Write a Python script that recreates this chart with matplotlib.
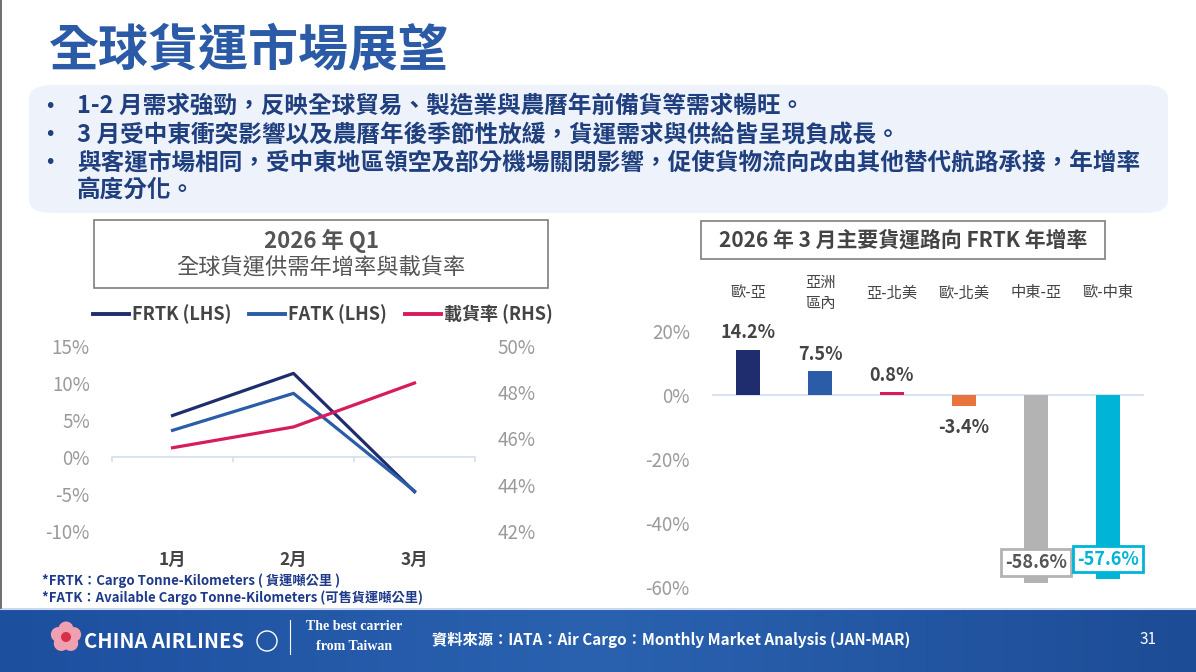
import matplotlib
matplotlib.use("Agg")
import matplotlib.pyplot as plt
import numpy as np
from matplotlib.patches import FancyBboxPatch, Rectangle, Circle
from matplotlib.lines import Line2D
from matplotlib.colors import LinearSegmentedColormap

plt.rcParams['font.family'] = ['Noto Sans CJK TC', 'DejaVu Sans']

# ---- data ----
months = ['1月', '2月', '3月']
frtk = [5.6, 11.3, -4.7]        # % yoy (LHS)
fatk = [3.6, 8.6, -4.6]         # % yoy (LHS)
load_factor = [45.6, 46.5, 48.4]  # % (RHS)

routes = ['歐-亞', '亞洲\n區內', '亞-北美', '歐-北美', '中東-亞', '歐-中東']
route_growth = [14.2, 7.5, 0.8, -3.4, -58.6, -57.6]

title = '全球貨運市場展望'
bullets = [
    '1-2 月需求強勁，反映全球貿易、製造業與農曆年前備貨等需求暢旺。',
    '3 月受中東衝突影響以及農曆年後季節性放緩，貨運需求與供給皆呈現負成長。',
    '與客運市場相同，受中東地區領空及部分機場關閉影響，促使貨物流向改由其他替代航路承接，年增率',
    '高度分化。',
]

W, H = 1196, 672
fig = plt.figure(figsize=(W / 100, H / 100), dpi=100)
fig.patch.set_facecolor('white')


def fx(x):
    return x / W


def fy(y):
    return 1 - y / H


def px_axes(l, t, r, b):
    return [fx(l), fy(b), (r - l) / W, (b - t) / H]


# ---- header ----
fig.text(fx(49), fy(52), title, fontsize=36, fontweight='bold', color='#2b5ba6', va='center')

box = FancyBboxPatch((fx(29), fy(213)), fx(1139), (213 - 85) / H,
                     boxstyle='round,pad=0,rounding_size=0.02', transform=fig.transFigure,
                     fc='#eef3fb', ec='none', zorder=0)
fig.patches.append(box)
txt_col = '#203f7e'
for y in [107, 135, 163]:
    fig.text(fx(44), fy(y), '•', fontsize=14, color=txt_col, va='center', family='DejaVu Sans')
for y, b in zip([107, 135, 163, 190], bullets):
    fig.text(fx(77), fy(y), b, fontsize=17, color=txt_col, va='center', fontweight='bold')

# ---- left chart title box ----
fig.patches.append(Rectangle((fx(94), fy(288)), (548 - 94) / W, (288 - 220) / H,
                             transform=fig.transFigure, fc='white', ec='#7f7f7f', lw=1.2))
fig.text(fx(321), fy(241), '2026 年 Q1', fontsize=16, fontweight='bold', color='#555555',
         ha='center', va='center')
fig.text(fx(321), fy(268), '全球貨運供需年增率與載貨率', fontsize=16, color='#555555',
         ha='center', va='center')

# ---- right chart title box ----
fig.patches.append(Rectangle((fx(701), fy(259)), (1105 - 701) / W, (259 - 221) / H,
                             transform=fig.transFigure, fc='white', ec='#7f7f7f', lw=1.2))
fig.text(fx(903), fy(240), '2026 年 3 月主要貨運路向 FRTK 年增率', fontsize=15, fontweight='bold',
         color='#444444', ha='center', va='center')

# ---- left line chart ----
ax = fig.add_axes(px_axes(112, 346, 475, 531))
ax2 = ax.twinx()
x = np.arange(len(months))
c_frtk, c_fatk, c_lf = '#1f2d6e', '#2a5ca8', '#d81b5a'
ax.plot(x, frtk, color=c_frtk, lw=2.3, zorder=3)
ax.plot(x, fatk, color=c_fatk, lw=2.3, zorder=3)
ax2.plot(x, load_factor, color=c_lf, lw=2.3, zorder=3)
ax.set_xlim(-0.5, 2.5)
ax.set_ylim(-10, 15)
ax.set_yticks([-10, -5, 0, 5, 10, 15])
ax.set_yticklabels(['-10%', '-5%', '0%', '5%', '10%', '15%'])
ax2.set_ylim(42, 50)
ax2.set_yticks([42, 44, 46, 48, 50])
ax2.set_yticklabels(['42%', '44%', '46%', '48%', '50%'])
for a in (ax, ax2):
    for s in a.spines.values():
        s.set_visible(False)
    a.tick_params(axis='y', length=0, labelsize=13.5, colors='#9a9a9a', pad=16)
ax.axhline(0, color='#d5e0f0', lw=1.3, zorder=1)
for xb in [-0.5, 0.5, 1.5, 2.5]:
    ax.plot([xb, xb], [0, -0.6], color='#d5e0f0', lw=1.3, clip_on=False)
ax.set_xticks(x)
ax.set_xticklabels(months, fontsize=12.5, fontweight='bold', color='#444444')
ax.tick_params(axis='x', length=0, pad=14)
handles = [Line2D([], [], color=c_frtk, lw=2.8), Line2D([], [], color=c_fatk, lw=2.8),
           Line2D([], [], color=c_lf, lw=2.8)]
leg = ax.legend(handles, ['FRTK (LHS)', 'FATK (LHS)', '載貨率 (RHS)'], ncol=3, frameon=False,
                loc='center', bbox_to_anchor=(0.58, 1.17), handlelength=2.0, handletextpad=0.15,
                columnspacing=1.0, prop={'size': 13, 'weight': 'bold'})
for t in leg.get_texts():
    t.set_color('#444444')

fig.text(fx(42), fy(581), '*FRTK：Cargo Tonne-Kilometers ( 貨運噸公里 )', fontsize=9.5,
         fontweight='bold', color='#1f3a8a', va='center')
fig.text(fx(42), fy(598), '*FATK：Available Cargo Tonne-Kilometers (可售貨運噸公里)', fontsize=9.5,
         fontweight='bold', color='#1f3a8a', va='center')

# ---- right bar chart ----
bx = fig.add_axes(px_axes(712, 331, 1144, 587))
bar_colors = ['#1f2d6e', '#2a5ca8', '#d81b5a', '#e8743b', '#b3b3b3', '#00b4d8']
xb = np.arange(len(routes))
bx.bar(xb, route_growth, width=0.33, color=bar_colors, zorder=2)
bx.set_xlim(-0.5, 5.5)
bx.set_ylim(-60, 20)
bx.set_yticks([-60, -40, -20, 0, 20])
bx.set_yticklabels(['-60%', '-40%', '-20%', '0%', '20%'])
bx.set_xticks([])
for s in bx.spines.values():
    s.set_visible(False)
bx.tick_params(axis='y', length=0, labelsize=13.5, colors='#9a9a9a', pad=16)
bx.axhline(0, color='#d5e0f0', lw=1.3, zorder=1)
for xi, r in zip(xb, routes):
    bx.text(xi, 1 + 38 / 256, r, transform=bx.get_xaxis_transform(), ha='center', va='center',
            fontsize=11, color='#444444', linespacing=1.25)
for xi, v, c in zip(xb, route_growth, bar_colors):
    if v > -20:
        off = 17 if v >= 0 else -22
        bx.annotate(f'{v:.1f}%', (xi, v), xytext=(0, off), textcoords='offset pixels',
                    ha='center', va='center', fontsize=13, fontweight='bold', color='#444444')
    else:
        tc = '#555555' if c == '#b3b3b3' else c
        bx.annotate(f'{v:.1f}%', (xi, v), xytext=(0, 20), textcoords='offset pixels',
                    ha='center', va='center', fontsize=13, fontweight='bold', color=tc,
                    bbox=dict(boxstyle='square,pad=0.2', fc='white', ec=c, lw=2), zorder=5)

# ---- footer ----
fax = fig.add_axes([0, 0, 1, (672 - 608) / H])
grad = np.linspace(0, 1, 256)[None, :]
cmap = LinearSegmentedColormap.from_list('foot', ['#1d4f9f', '#2a62b0', '#1d4c96'])
fax.imshow(grad, aspect='auto', cmap=cmap, extent=[0, W, 672, 608])
fax.set_xlim(0, W)
fax.set_ylim(672, 608)
fax.axis('off')
fax.axhline(608.5, color='#c9d8ee', lw=1.5)
for ang in range(5):
    a = np.deg2rad(90 + ang * 72)
    fax.add_patch(Circle((66 + 8 * np.cos(a), 637 - 8 * np.sin(a)), 7.5, color='#f0a0b0', lw=0))
fax.add_patch(Circle((66, 637), 5, color='#d6304a', lw=0))
fax.text(84, 641, 'CHINA AIRLINES', fontsize=14.5, fontweight='bold', color='white', va='center')
fax.add_patch(Circle((267, 641), 10, fc='none', ec='white', lw=1))
fax.plot([290, 290], [620, 654], color='white', lw=0.8)
fax.text(354, 627, 'The best carrier', fontsize=10, color='white', ha='center', va='center',
         family='Liberation Serif', fontweight='bold')
fax.text(354, 647, 'from Taiwan', fontsize=10, color='white', ha='center', va='center',
         family='Liberation Serif', fontweight='bold')
fax.text(432, 640, '資料來源：IATA：Air Cargo：Monthly Market Analysis (JAN-MAR)', fontsize=11,
         fontweight='bold', color='white', va='center')
fax.text(1148, 640, '31', fontsize=11, color='white', ha='center', va='center')

fig.add_artist(Line2D([fx(0.8), fx(0.8)], [fy(608), 1], color='#555555', lw=1.2))

fig.savefig('out.png', dpi=100, facecolor='white')
